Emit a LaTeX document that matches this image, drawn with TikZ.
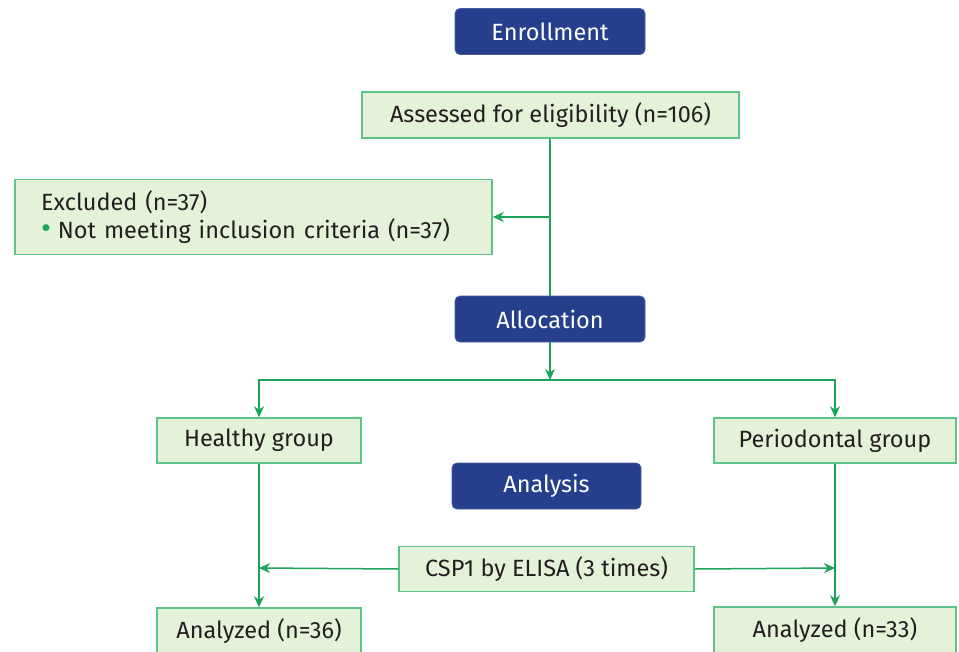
\documentclass[tikz,border=0pt]{standalone}
\usepackage{fontspec}
\setmainfont{Fira Sans}
\usetikzlibrary{arrows.meta}
\definecolor{hdrblue}{HTML}{263F8C}
\definecolor{boxfill}{HTML}{E4F2DA}
\definecolor{boxline}{HTML}{5CC38A}
\definecolor{arrgreen}{HTML}{1DA45A}
\definecolor{txt}{HTML}{231F20}
\tikzset{
  hdr/.style={draw=hdrblue!85!white, fill=hdrblue, rounded corners=5pt, text=white, line width=0.8pt,
    minimum width=190pt, minimum height=46pt, inner sep=0pt, font=\fontsize{23.5}{28}\selectfont},
  gbox/.style={draw=boxline, fill=boxfill, line width=1.5pt, text=txt, inner sep=0pt,
    minimum height=46pt, font=\fontsize{23.5}{28}\selectfont},
  arr/.style={draw=arrgreen, line width=1.5pt, -{Stealth[length=11pt,width=10pt,inset=3.5pt]}},
  ln/.style={draw=arrgreen, line width=1.5pt}
}
\begin{document}
\begin{tikzpicture}[x=1pt,y=-1pt]
\useasboundingbox (0,0) rectangle (959,651);
\clip (0,0) rectangle (959,651);
\node[hdr] (enroll) at (550,31.5) {Enrollment};
\node[gbox, minimum width=377pt] (assess) at (550.5,115) {Assessed for eligibility (n=106)};
\node[gbox, minimum width=477pt, minimum height=75pt, text width=425pt, inner xsep=26pt, align=left] (excl) at (253.5,217)
  {Excluded (n=37)\\{\color{arrgreen}\scalebox{1.3}{\textbullet}}\hspace{0.3em}Not meeting inclusion criteria (n=37)};
\node[hdr] (alloc) at (550,319) {Allocation};
\node[gbox, minimum width=204pt, minimum height=45pt] (healthy) at (259,440.5) {Healthy group};
\node[gbox, minimum width=242pt, minimum height=45pt] (perio) at (835,440.5) {Periodontal group};
\node[hdr, minimum width=189pt] (analysis) at (546.5,486) {Analysis};
\node[gbox, minimum width=295pt, minimum height=45pt] (csp) at (546.5,569) {CSP1 by ELISA (3 times)};
\node[gbox, minimum width=204pt] (an36) at (259,631) {Analyzed (n=36)};
\node[gbox, minimum width=242pt] (an33) at (835,630) {Analyzed (n=33)};
\coordinate (branch) at (550,217);
\coordinate (split) at (550,380);
\coordinate (lmid) at (259,568);
\coordinate (rmid) at (835,568);
\draw[ln] (assess.south -| branch) -- (alloc.north -| branch);
\draw[arr] (branch) -- (excl.east);
\draw[arr] (alloc.south -| split) -- (split);
\draw[arr] (split) -| (healthy.north);
\draw[arr] (split) -| (perio.north);
\draw[arr] (healthy.south) -- (an36.north);
\draw[arr] (perio.south) -- (an33.north);
\draw[arr] (csp.west) -- (lmid);
\draw[arr] (csp.east) -- (rmid);
\end{tikzpicture}
\end{document}
